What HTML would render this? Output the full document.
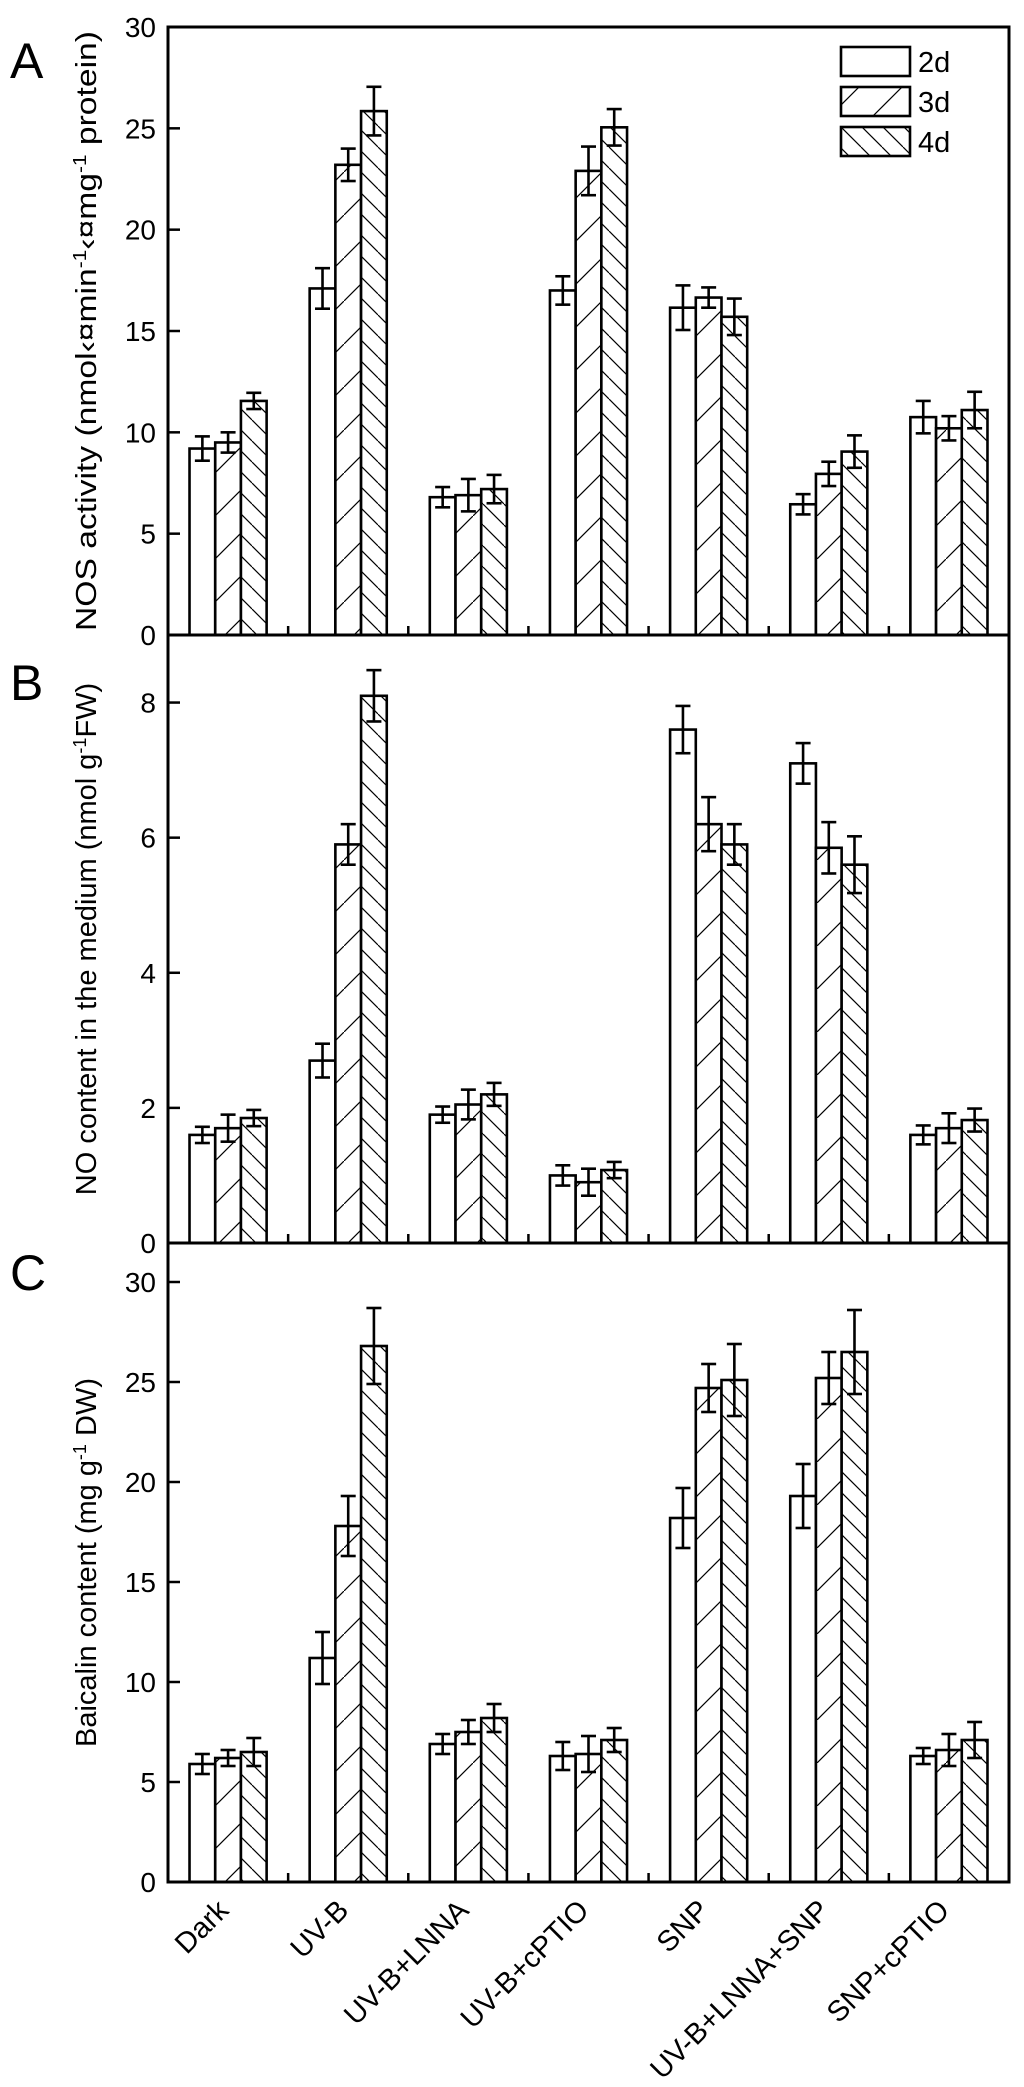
<!DOCTYPE html>
<html><head><meta charset="utf-8"><title>NOS / NO / Baicalin chart</title>
<style>
html,body{margin:0;padding:0;background:#fff;}
svg{display:block;font-family:"Liberation Sans",Arial,sans-serif;}
</style></head>
<body>
<svg id="chart" width="1024" height="2087" viewBox="0 0 1024 2087" xmlns="http://www.w3.org/2000/svg">
<defs>
<pattern id="hatch3" patternUnits="userSpaceOnUse" width="43" height="43">
<line x1="0" y1="43" x2="43" y2="0" stroke="#000" stroke-width="1.2"/>
</pattern>
<pattern id="hatch4" patternUnits="userSpaceOnUse" width="21" height="21">
<line x1="0" y1="0" x2="21" y2="21" stroke="#000" stroke-width="1.2"/>
<line x1="-21" y1="0" x2="0" y2="21" stroke="#000" stroke-width="1.2"/>
<line x1="21" y1="0" x2="42" y2="21" stroke="#000" stroke-width="1.2"/>
</pattern>
</defs>
<g id="layer"></g>
</svg>
<script>
const categories = ["Dark","UV-B","UV-B+LNNA","UV-B+cPTIO","SNP","UV-B+LNNA+SNP","SNP+cPTIO"];
const seriesNames = ["2d","3d","4d"];
const nosValues = [[9.2,17.1,6.8,17.0,16.15,6.45,10.75],[9.5,23.2,6.9,22.9,16.65,7.95,10.2],[11.55,25.85,7.2,25.05,15.7,9.05,11.1]];
const nosErrors = [[0.6,1.0,0.5,0.7,1.1,0.5,0.8],[0.5,0.8,0.8,1.2,0.5,0.6,0.6],[0.4,1.2,0.7,0.9,0.9,0.8,0.9]];
const noValues = [[1.6,2.7,1.9,1.0,7.6,7.1,1.6],[1.7,5.9,2.05,0.9,6.2,5.85,1.7],[1.85,8.1,2.2,1.08,5.9,5.6,1.82]];
const noErrors = [[0.12,0.25,0.12,0.15,0.35,0.3,0.14],[0.2,0.3,0.22,0.2,0.4,0.38,0.22],[0.12,0.38,0.17,0.12,0.3,0.42,0.17]];
const baiValues = [[5.9,11.2,6.9,6.3,18.2,19.3,6.3],[6.2,17.8,7.5,6.4,24.7,25.2,6.6],[6.5,26.8,8.2,7.1,25.1,26.5,7.1]];
const baiErrors = [[0.5,1.3,0.5,0.7,1.5,1.6,0.4],[0.4,1.5,0.6,0.9,1.2,1.3,0.8],[0.7,1.9,0.7,0.6,1.8,2.1,0.9]];
const nosTicks = [0,5,10,15,20,25,30];
const noTicks = [0,2,4,6,8];
const baiTicks = [0,5,10,15,20,25,30];

const NS="http://www.w3.org/2000/svg";
const layer=document.getElementById('layer');
const X0=168, X1=1009;
const groupW=(X1-X0)/categories.length;
const barW=25.7;
const fills=["#fff","url(#hatch3)","url(#hatch4)"];
function el(tag,attrs,parent){const e=document.createElementNS(NS,tag);for(const k in attrs)e.setAttribute(k,attrs[k]);(parent||layer).appendChild(e);return e;}
function xCenter(i){return X0+groupW*(i+0.5);}

function panel(key,top,bottom,ymax,ticks,values,errors,letter,letterY,titleParts,titleLen){
  const g=el('g',{});
  
  
  const yScale=v=>bottom-(v/ymax)*(bottom-top);
  for(let s=0;s<values.length;s++){
    for(let i=0;i<categories.length;i++){
      const x=xCenter(i)-1.5*barW+s*barW;
      const y=yScale(values[s][i]);
      const r=el('rect',{x:x,y:y,width:barW,height:bottom-y,fill:'#fff',stroke:'none'},g);
      
      
      if(s>0){const h=el('rect',{x:x,y:y,width:barW,height:bottom-y,fill:fills[s],stroke:'none'},g);
        
        }
      const o=el('rect',{x:x,y:y,width:barW,height:bottom-y,fill:'none',stroke:'#000','stroke-width':2.6},g);
      
      
    }
  }
  for(let s=0;s<values.length;s++){
    for(let i=0;i<categories.length;i++){
      const cx=xCenter(i)-barW+s*barW;
      const yh=yScale(values[s][i]+errors[s][i]), yl=yScale(values[s][i]-errors[s][i]);
      const eg=el('g',{stroke:'#000','stroke-width':2.6},g);
      
      
      el('line',{x1:cx,y1:yh,x2:cx,y2:yl},eg);
      el('line',{x1:cx-7.5,y1:yh,x2:cx+7.5,y2:yh},eg);
      el('line',{x1:cx-7.5,y1:yl,x2:cx+7.5,y2:yl},eg);
    }
  }
  const f=el('rect',{x:X0,y:top,width:X1-X0,height:bottom-top,fill:'none',stroke:'#000','stroke-width':3},g);
  
  
  for(const t of ticks){
    const y=yScale(t);
    el('line',{x1:X0,y1:y,x2:X0+12,y2:y,stroke:'#000','stroke-width':2.5},g);
    const tx=el('text',{x:X0-12,y:y+10,'text-anchor':'end','font-size':28},g);
    tx.textContent=t;
    
    
  }
  for(let i=1;i<categories.length;i++){
    const x=X0+groupW*i;
    el('line',{x1:x,y1:bottom,x2:x,y2:bottom-9,stroke:'#000','stroke-width':2.5},g);
  }
  const L=el('text',{x:10,y:letterY,'font-size':50},g);
  L.textContent=letter;
  
  
  const cy=(top+bottom)/2;
  const attrs={x:0,y:0,'font-size':29,'text-anchor':'middle',transform:`translate(96,${cy}) rotate(-90)`};
  if(titleLen){attrs.textLength=titleLen;attrs.lengthAdjust='spacingAndGlyphs';}
  const T=el('text',attrs,g);
  
  
  for(const p of titleParts){const sp=el('tspan',{},T);sp.textContent=p[0];if(p[1]){sp.setAttribute('baseline-shift','super');sp.setAttribute('font-size','18');}}
}

panel('nos',27,635,30,nosTicks,nosValues,nosErrors,'A',78,
  [["NOS activity (nmol‹¤min"],["-1",1],["‹¤mg"],["-1",1],[" protein)"]],600);
panel('no',635,1243,9.0,noTicks,noValues,noErrors,'B',700,
  [["NO content  in the medium (nmol g"],["-1",1],["FW)"]],0);
panel('bai',1243,1882,31.95,baiTicks,baiValues,baiErrors,'C',1290,
  [["Baicalin content (mg g"],["-1",1],[" DW)"]],0);

for(let i=0;i<categories.length;i++){
  const x=xCenter(i)+2;
  const t=el('text',{x:0,y:0,'font-size':29,'text-anchor':'end',transform:`translate(${x},1912) rotate(-45)`});
  t.textContent=categories[i];
  
  
}

const lg=el('g',{});


for(let s=0;s<3;s++){
  const y=47+s*40;
  el('rect',{x:841,y:y,width:69,height:29,fill:'#fff'},lg);
  if(s>0) el('rect',{x:841,y:y,width:69,height:29,fill:fills[s]},lg);
  const b=el('rect',{x:841,y:y,width:69,height:29,fill:'none',stroke:'#000','stroke-width':2.6},lg);
  
  
  const t=el('text',{x:918,y:y+25,'font-size':29},lg);
  t.textContent=seriesNames[s];
  
  
}
</script>
</body></html>
